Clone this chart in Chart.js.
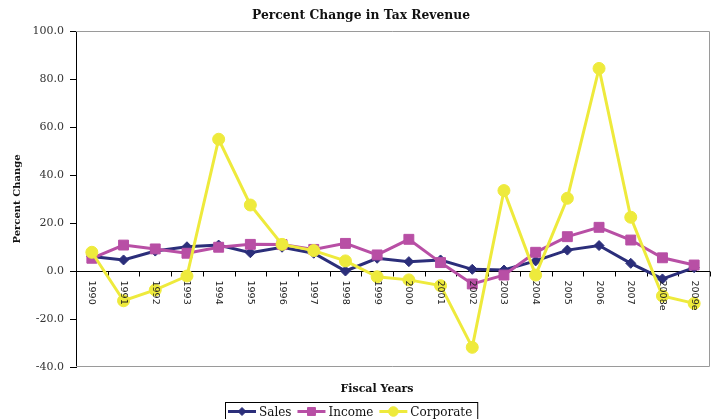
<!DOCTYPE html>
<html><head><meta charset="utf-8">
<style>html,body{margin:0;padding:0;background:#fff}#wrap{width:711px;height:419px;position:relative}</style>
<script src="https://cdn.jsdelivr.net/npm/chart.js@4.4.1/dist/chart.umd.min.js"></script>
</head><body><div id="wrap"><canvas id="c"></canvas></div>
<script>
const fiscalYears = ['1990','1991','1992','1993','1994','1995','1996','1997','1998','1999','2000','2001','2002','2003','2004','2005','2006','2007','2008e','2009e'];
const sales     = [6.0, 4.6, 8.3, 10.1, 10.8, 7.6, 9.9, 7.4, 0.0, 5.3, 3.9, 4.6, 0.7, 0.4, 4.2, 8.7, 10.6, 3.2, -3.3, 1.4];
const income    = [5.3, 10.8, 9.2, 7.4, 9.9, 11.1, 11.0, 9.0, 11.5, 6.7, 13.2, 3.5, -5.4, -1.7, 7.8, 14.3, 18.2, 12.9, 5.5, 2.5];
const corporate = [7.8, -12.4, -7.9, -2.1, 54.9, 27.5, 11.1, 8.5, 4.2, -2.4, -3.7, -6.1, -31.8, 33.5, -1.7, 30.3, 84.4, 22.4, -10.4, -13.5];
const yMin = -40, yMax = 100, yStep = 20;
const chartTitle = 'Percent Change in Tax Revenue';
const yTitle = 'Percent Change';
const xTitle = 'Fiscal Years';
const seriesNames = ['Sales', 'Income', 'Corporate'];

const colSales = '#2B2E7A', colIncome = '#B84FA5', colCorp = '#EEEA3C';
const serif = "'DejaVu Serif', serif";

const decor = {
  id: 'decor',
  beforeDatasetsDraw(chart) {
    const {ctx, chartArea: a, scales: {x, y}} = chart;
    ctx.save();
    ctx.strokeStyle = '#9a9a9a'; ctx.lineWidth = 1;
    ctx.beginPath();
    ctx.moveTo(a.left, a.top + 0.5); ctx.lineTo(a.right - 0.5, a.top + 0.5);
    ctx.lineTo(a.right - 0.5, a.bottom - 0.5); ctx.lineTo(a.left, a.bottom - 0.5);
    ctx.stroke();
    const y0 = Math.round(y.getPixelForValue(0)) + 0.5;
    ctx.strokeStyle = '#000';
    ctx.beginPath(); ctx.moveTo(a.left, y0); ctx.lineTo(a.right, y0); ctx.stroke();
    const n = fiscalYears.length;
    const step = x.getPixelForValue(1) - x.getPixelForValue(0);
    ctx.beginPath();
    for (let i = 0; i <= n; i++) {
      const px = Math.round(x.getPixelForValue(i) - step / 2) + 0.5;
      ctx.moveTo(px, y0); ctx.lineTo(px, y0 + 5);
    }
    ctx.stroke();
    ctx.restore();
  },
  afterDatasetsDraw(chart) {
    const {ctx, scales: {x, y}} = chart;
    const y0 = Math.round(y.getPixelForValue(0)) + 0.5;
    ctx.save();
    ctx.fillStyle = '#222';
    ctx.font = "9.5px 'DejaVu Sans', sans-serif";
    ctx.textAlign = 'left'; ctx.textBaseline = 'middle';
    fiscalYears.forEach((lab, i) => {
      const px = x.getPixelForValue(i);
      ctx.save(); ctx.translate(px, y0 + 9); ctx.rotate(Math.PI / 2);
      ctx.fillText(lab, 0, 0); ctx.restore();
    });
    ctx.restore();
  },
  afterDraw(chart) {
    const {ctx, chartArea: a} = chart;
    ctx.save();
    ctx.fillStyle = '#111';
    ctx.textAlign = 'center'; ctx.textBaseline = 'middle';
    ctx.font = "bold 12.3px " + serif;
    ctx.fillText(chartTitle, 361, 16);
    ctx.font = "bold 11px " + serif;
    ctx.fillText(xTitle, 377, 389);
    ctx.save(); ctx.translate(17, (a.top + a.bottom) / 2); ctx.rotate(-Math.PI / 2);
    ctx.font = "bold 10px " + serif;
    ctx.fillText(yTitle, 0, 0); ctx.restore();
    ctx.font = "12px " + serif;
    const ds = chart.data.datasets;
    const lineLen = 28, gap1 = 3, gap2 = 6, padL = 3, padR = 5;
    let total = padL + padR;
    const widths = ds.map(d => ctx.measureText(d.label).width);
    ds.forEach((d, i) => { total += lineLen + gap1 + widths[i] + (i < ds.length - 1 ? gap2 : 0); });
    const left = Math.round(351 - total / 2);
    const top = 402, ly = 411.5;
    ctx.strokeStyle = '#000'; ctx.lineWidth = 1;
    ctx.strokeRect(left + 0.5, top + 0.5, total, 30);
    let cx = left + padL;
    ds.forEach((d, i) => {
      ctx.strokeStyle = d.borderColor; ctx.lineWidth = 3;
      ctx.beginPath(); ctx.moveTo(cx, ly); ctx.lineTo(cx + lineLen, ly); ctx.stroke();
      ctx.fillStyle = d.pointBackgroundColor; ctx.strokeStyle = d.pointBorderColor; ctx.lineWidth = 1;
      Chart.helpers.drawPoint(ctx, {pointStyle: d.pointStyle, radius: d.pointRadius * 0.8, rotation: 0, borderWidth: 1}, cx + lineLen / 2, ly);
      ctx.fillStyle = '#111'; ctx.textAlign = 'left'; ctx.textBaseline = 'middle';
      ctx.fillText(d.label, cx + lineLen + gap1, ly + 1);
      cx += lineLen + gap1 + widths[i] + gap2;
    });
    ctx.restore();
  }
};

function series(label, data, color, style, radius, order) {
  return {label, data, borderColor: color, backgroundColor: color, pointBackgroundColor: color,
    pointBorderColor: color, pointStyle: style, pointRadius: radius, pointBorderWidth: 1,
    borderWidth: 3, tension: 0, order, clip: false};
}

new Chart(document.getElementById('c'), {
  type: 'line',
  data: {
    labels: fiscalYears,
    datasets: [
      series(seriesNames[0], sales, colSales, 'rectRot', 5, 3),
      series(seriesNames[1], income, colIncome, 'rect', 7, 2),
      series(seriesNames[2], corporate, colCorp, 'circle', 6, 1)
    ]
  },
  options: {
    responsive: true, maintainAspectRatio: false, animation: false,
    layout: {autoPadding: false, padding: {top: 31, right: 1, bottom: 52, left: 0}},
    plugins: {legend: {display: false}, title: {display: false}, tooltip: {enabled: false}},
    scales: {
      x: {type: 'category', offset: true, grid: {display: false}, ticks: {display: false},
          border: {display: false}, afterFit(s) { s.height = 0; }},
      y: {min: yMin, max: yMax,
          ticks: {stepSize: yStep, callback: v => Number(v).toFixed(1), font: {family: serif, size: 11}, color: '#333', padding: 6},
          grid: {drawOnChartArea: false, drawTicks: true, tickLength: 6, color: '#000'},
          border: {display: true, color: '#000', width: 1},
          afterFit(s) { s.width = 76; }}
    }
  },
  plugins: [decor]
});
</script></body></html>
